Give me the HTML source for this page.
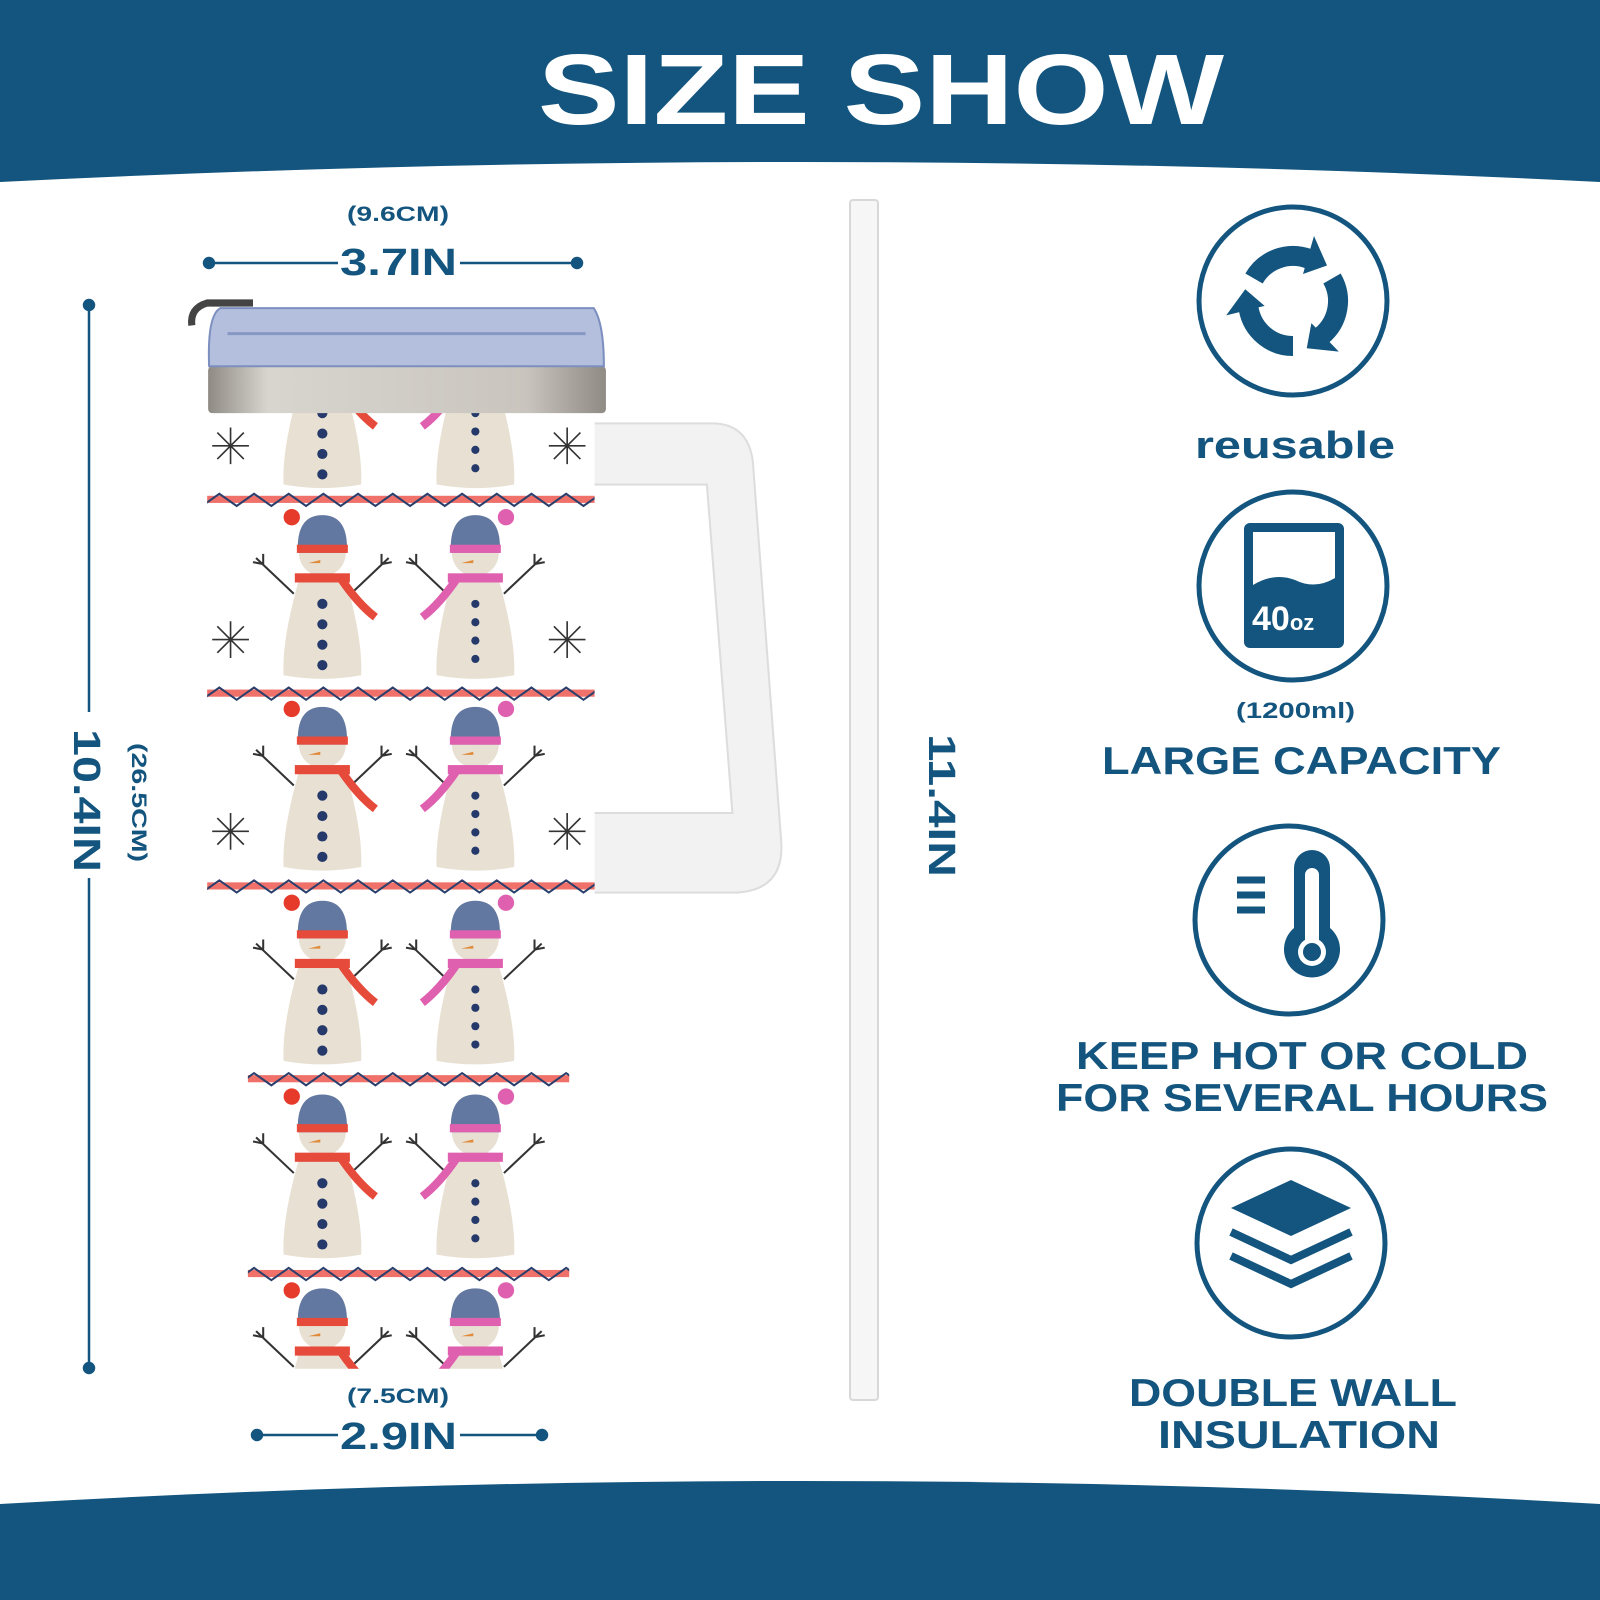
<!DOCTYPE html>
<html><head><meta charset="utf-8"><style>
html,body{margin:0;padding:0}
body{width:1600px;height:1600px;position:relative;background:#fff;overflow:hidden}
text{font-family:"Liberation Sans",sans-serif;font-weight:700;fill:#13557e}
</style></head><body>
<svg width="1600" height="1600" style="position:absolute;left:0;top:0">
<defs>
<clipPath id="cb"><path d="M205 400 H585 V940 Q585 960 560 990 V1345 H245 V990 Q205 960 205 940 Z"/></clipPath>
<g id="smL">
<path d="M-28 -5 L-65 -40 M-58 -34 l-10 -2 M-58 -34 l0 -10 M28 -5 L65 -40 M58 -34 l10 -2 M58 -34 l0 -10" stroke="#333" stroke-width="2" fill="none"/>
<path d="M-22 -22 Q-40 40 -38 75 Q0 82 38 75 Q40 40 22 -22Z" fill="#e8e1d3"/>
<circle cx="0" cy="-45" r="23" fill="#e8e1d3"/>
<path d="M-24 -45 Q-26 -82 0 -82 Q26 -82 24 -45Z" fill="#6378a0"/>
<rect x="-25" y="-53" width="50" height="8" fill="#e64a3a"/>
<circle cx="-30" cy="-80" r="8" fill="#e63a2a"/>
<path d="M-2 -38 l-12 3 l12 0z" fill="#e08a3a"/>
<rect x="-27" y="-25" width="54" height="9" fill="#e64a3a"/>
<path d="M18 -20 Q35 5 52 18" stroke="#e64a3a" stroke-width="8" fill="none"/>
<g fill="#253a6a"><circle cx="0" cy="5" r="5"/><circle cx="0" cy="25" r="5"/><circle cx="0" cy="45" r="5"/><circle cx="0" cy="65" r="5"/></g>
</g>
<g id="smR">
<path d="M-28 -5 L-65 -40 M-58 -34 l-10 -2 M-58 -34 l0 -10 M28 -5 L65 -40 M58 -34 l10 -2 M58 -34 l0 -10" stroke="#333" stroke-width="2" fill="none"/>
<path d="M-22 -22 Q-40 40 -38 75 Q0 82 38 75 Q40 40 22 -22Z" fill="#e8e1d3"/>
<circle cx="0" cy="-45" r="23" fill="#e8e1d3"/>
<path d="M-24 -45 Q-26 -82 0 -82 Q26 -82 24 -45Z" fill="#6378a0"/>
<rect x="-25" y="-53" width="50" height="8" fill="#e060b0"/>
<circle cx="30" cy="-80" r="8" fill="#e060b0"/>
<path d="M-2 -38 l-12 3 l12 0z" fill="#e08a3a"/>
<rect x="-27" y="-25" width="54" height="9" fill="#e060b0"/>
<path d="M-18 -20 Q-35 5 -52 18" stroke="#e060b0" stroke-width="8" fill="none"/>
<g fill="#253a6a"><circle cx="0" cy="5" r="4"/><circle cx="0" cy="23" r="4"/><circle cx="0" cy="41" r="4"/><circle cx="0" cy="59" r="4"/></g>
</g>
<g id="sn" stroke="#333" stroke-width="1.6" fill="none"><path d="M-18 0H18M0 -18V18M-13 -13L13 13M-13 13L13 -13"/></g>
<g id="band"><rect x="200" y="-4" width="400" height="7" fill="#f0706a"/><path d="M200 6 l17 -12 l17 12 l17 -12 l17 12 l17 -12 l17 12 l17 -12 l17 12 l17 -12 l17 12 l17 -12 l17 12 l17 -12 l17 12 l17 -12 l17 12 l17 -12 l17 12 l17 -12 l17 12 l17 -12 l17 12 l17 -12" stroke="#2b3f6c" stroke-width="2" fill="none"/></g>
<linearGradient id="met" x1="0" x2="1"><stop offset="0" stop-color="#8f8b84"/><stop offset="0.15" stop-color="#d8d5cf"/><stop offset="0.8" stop-color="#c9c5be"/><stop offset="1" stop-color="#8f8b84"/></linearGradient>
</defs>
<path d="M0 0H1600V182 Q800 142 0 182Z" fill="#13557e"/>
<path d="M0 1504 Q800 1458 1600 1504 V1600 H0Z" fill="#13557e"/>
<g transform="translate(-2,-3) scale(1.02)">
<path d="M575 418 H700 Q735 418 740 455 L768 830 Q770 875 725 878 H575 V800 H720 L695 478 H575Z" fill="#f2f2f2" stroke="#ddd" stroke-width="2"/>
<g clip-path="url(#cb)">
<rect x="200" y="395" width="400" height="960" fill="#fff"/>
<use href="#band" y="493"/><use href="#band" y="683"/><use href="#band" y="872"/><use href="#band" y="1061"/><use href="#band" y="1252"/>
<use href="#smL" x="318" y="403"/><use href="#smR" x="468" y="403"/>
<use href="#smL" x="318" y="590"/><use href="#smR" x="468" y="590"/>
<use href="#smL" x="318" y="778"/><use href="#smR" x="468" y="778"/>
<use href="#smL" x="318" y="968"/><use href="#smR" x="468" y="968"/>
<use href="#smL" x="318" y="1158"/><use href="#smR" x="468" y="1158"/>
<use href="#smL" x="318" y="1348"/><use href="#smR" x="468" y="1348"/>
<use href="#sn" x="228" y="440"/><use href="#sn" x="558" y="440"/>
<use href="#sn" x="228" y="630"/><use href="#sn" x="558" y="630"/>
<use href="#sn" x="228" y="818"/><use href="#sn" x="558" y="818"/>
</g>
<rect x="206" y="362" width="390" height="46" rx="4" fill="url(#met)"/>
<path d="M207 362 Q205 312 218 305 H584 Q594 320 594 362Z" fill="#b3bfdc" stroke="#7d8fc0" stroke-width="2"/>
<path d="M225 330 H576" stroke="#8797c4" stroke-width="3"/>
<path d="M190 322 Q188 305 205 300 H250" stroke="#444" stroke-width="7" fill="none"/>
</g>
<rect x="850" y="200" width="28" height="1200" rx="3" fill="#f6f6f6" stroke="#d8d8d8" stroke-width="2"/>
<g stroke="#13557e" stroke-width="2.5" fill="#13557e">
<line x1="209" y1="263" x2="338" y2="263"/><line x1="460" y1="263" x2="577" y2="263"/>
<circle cx="209" cy="263" r="5"/><circle cx="577" cy="263" r="5"/>
<line x1="89" y1="305" x2="89" y2="712"/><line x1="89" y1="878" x2="89" y2="1368"/>
<circle cx="89" cy="305" r="5"/><circle cx="89" cy="1368" r="5"/>
<line x1="257" y1="1435" x2="338" y2="1435"/><line x1="460" y1="1435" x2="542" y2="1435"/>
<circle cx="257" cy="1435" r="5"/><circle cx="542" cy="1435" r="5"/>
</g>

<g fill="none" stroke="#13557e" stroke-width="5">
<circle cx="1293" cy="301" r="94"/><circle cx="1293" cy="586" r="94"/><circle cx="1289" cy="920" r="94"/><circle cx="1291" cy="1243" r="94"/>
</g>
<g id="rc">
<path d="M1254 278.5 A45 45 0 0 1 1308.4 258.7" stroke="#13557e" stroke-width="20" fill="none"/>
<path d="M1327 265.5 L1314 236 L1303 274z" fill="#13557e"/>
</g>
<use href="#rc" transform="rotate(120 1293 301)"/>
<use href="#rc" transform="rotate(240 1293 301)"/>
<rect x="1244" y="523" width="100" height="125" rx="6" fill="#13557e"/>
<path d="M1253 532 H1335 V578 q-20 12 -40 2 q-20 -8 -42 5z" fill="#fff"/>
<text x="1252" y="630" font-size="34" style="fill:#fff;font-weight:900">40<tspan font-size="22">oz</tspan></text>
<path d="M1294 868 a18 18 0 0 1 36 0 v60 a28 28 0 1 1 -36 0z" fill="#13557e"/>
<rect x="1305" y="868" width="14" height="80" rx="7" fill="#fff"/>
<circle cx="1312" cy="952" r="14" fill="#fff"/>
<circle cx="1312" cy="952" r="9" fill="#13557e"/>
<g stroke="#13557e" stroke-width="7"><line x1="1237" y1="880" x2="1265" y2="880"/><line x1="1237" y1="895" x2="1265" y2="895"/><line x1="1237" y1="910" x2="1265" y2="910"/></g>
<path d="M1291 1180 l60 28 l-60 28 l-60 -28z" fill="#13557e"/>
<g stroke="#13557e" stroke-width="8" fill="none"><path d="M1231 1232 l60 28 l60 -28"/><path d="M1231 1256 l60 28 l60 -28"/></g>

<text x="538" y="124" font-size="100" textLength="686" lengthAdjust="spacingAndGlyphs" style="fill:#fff;font-weight:900">SIZE SHOW</text>
<text x="347" y="221" font-size="21" textLength="102" lengthAdjust="spacingAndGlyphs">(9.6CM)</text>
<text x="340" y="275" font-size="38" textLength="117" lengthAdjust="spacingAndGlyphs">3.7IN</text>
<text x="347" y="1403" font-size="21" textLength="102" lengthAdjust="spacingAndGlyphs">(7.5CM)</text>
<text x="340" y="1449" font-size="38" textLength="117" lengthAdjust="spacingAndGlyphs">2.9IN</text>
<text transform="translate(74,729) rotate(90)" font-size="38" textLength="143" lengthAdjust="spacingAndGlyphs">10.4IN</text>
<text transform="translate(132,743) rotate(90)" font-size="21" textLength="119" lengthAdjust="spacingAndGlyphs">(26.5CM)</text>
<text transform="translate(929,734) rotate(90)" font-size="38" textLength="143" lengthAdjust="spacingAndGlyphs">11.4IN</text>
<text x="1195" y="458" font-size="38" textLength="200" lengthAdjust="spacingAndGlyphs">reusable</text>
<text x="1236" y="718" font-size="22" textLength="119" lengthAdjust="spacingAndGlyphs">(1200ml)</text>
<text x="1102" y="774" font-size="39" textLength="399" lengthAdjust="spacingAndGlyphs">LARGE CAPACITY</text>
<text x="1076" y="1069" font-size="39" textLength="452" lengthAdjust="spacingAndGlyphs">KEEP HOT OR COLD</text>
<text x="1056" y="1111" font-size="39" textLength="492" lengthAdjust="spacingAndGlyphs">FOR SEVERAL HOURS</text>
<text x="1129" y="1406" font-size="39" textLength="328" lengthAdjust="spacingAndGlyphs">DOUBLE WALL</text>
<text x="1158" y="1448" font-size="39" textLength="282" lengthAdjust="spacingAndGlyphs">INSULATION</text>
</svg>
</body></html>
